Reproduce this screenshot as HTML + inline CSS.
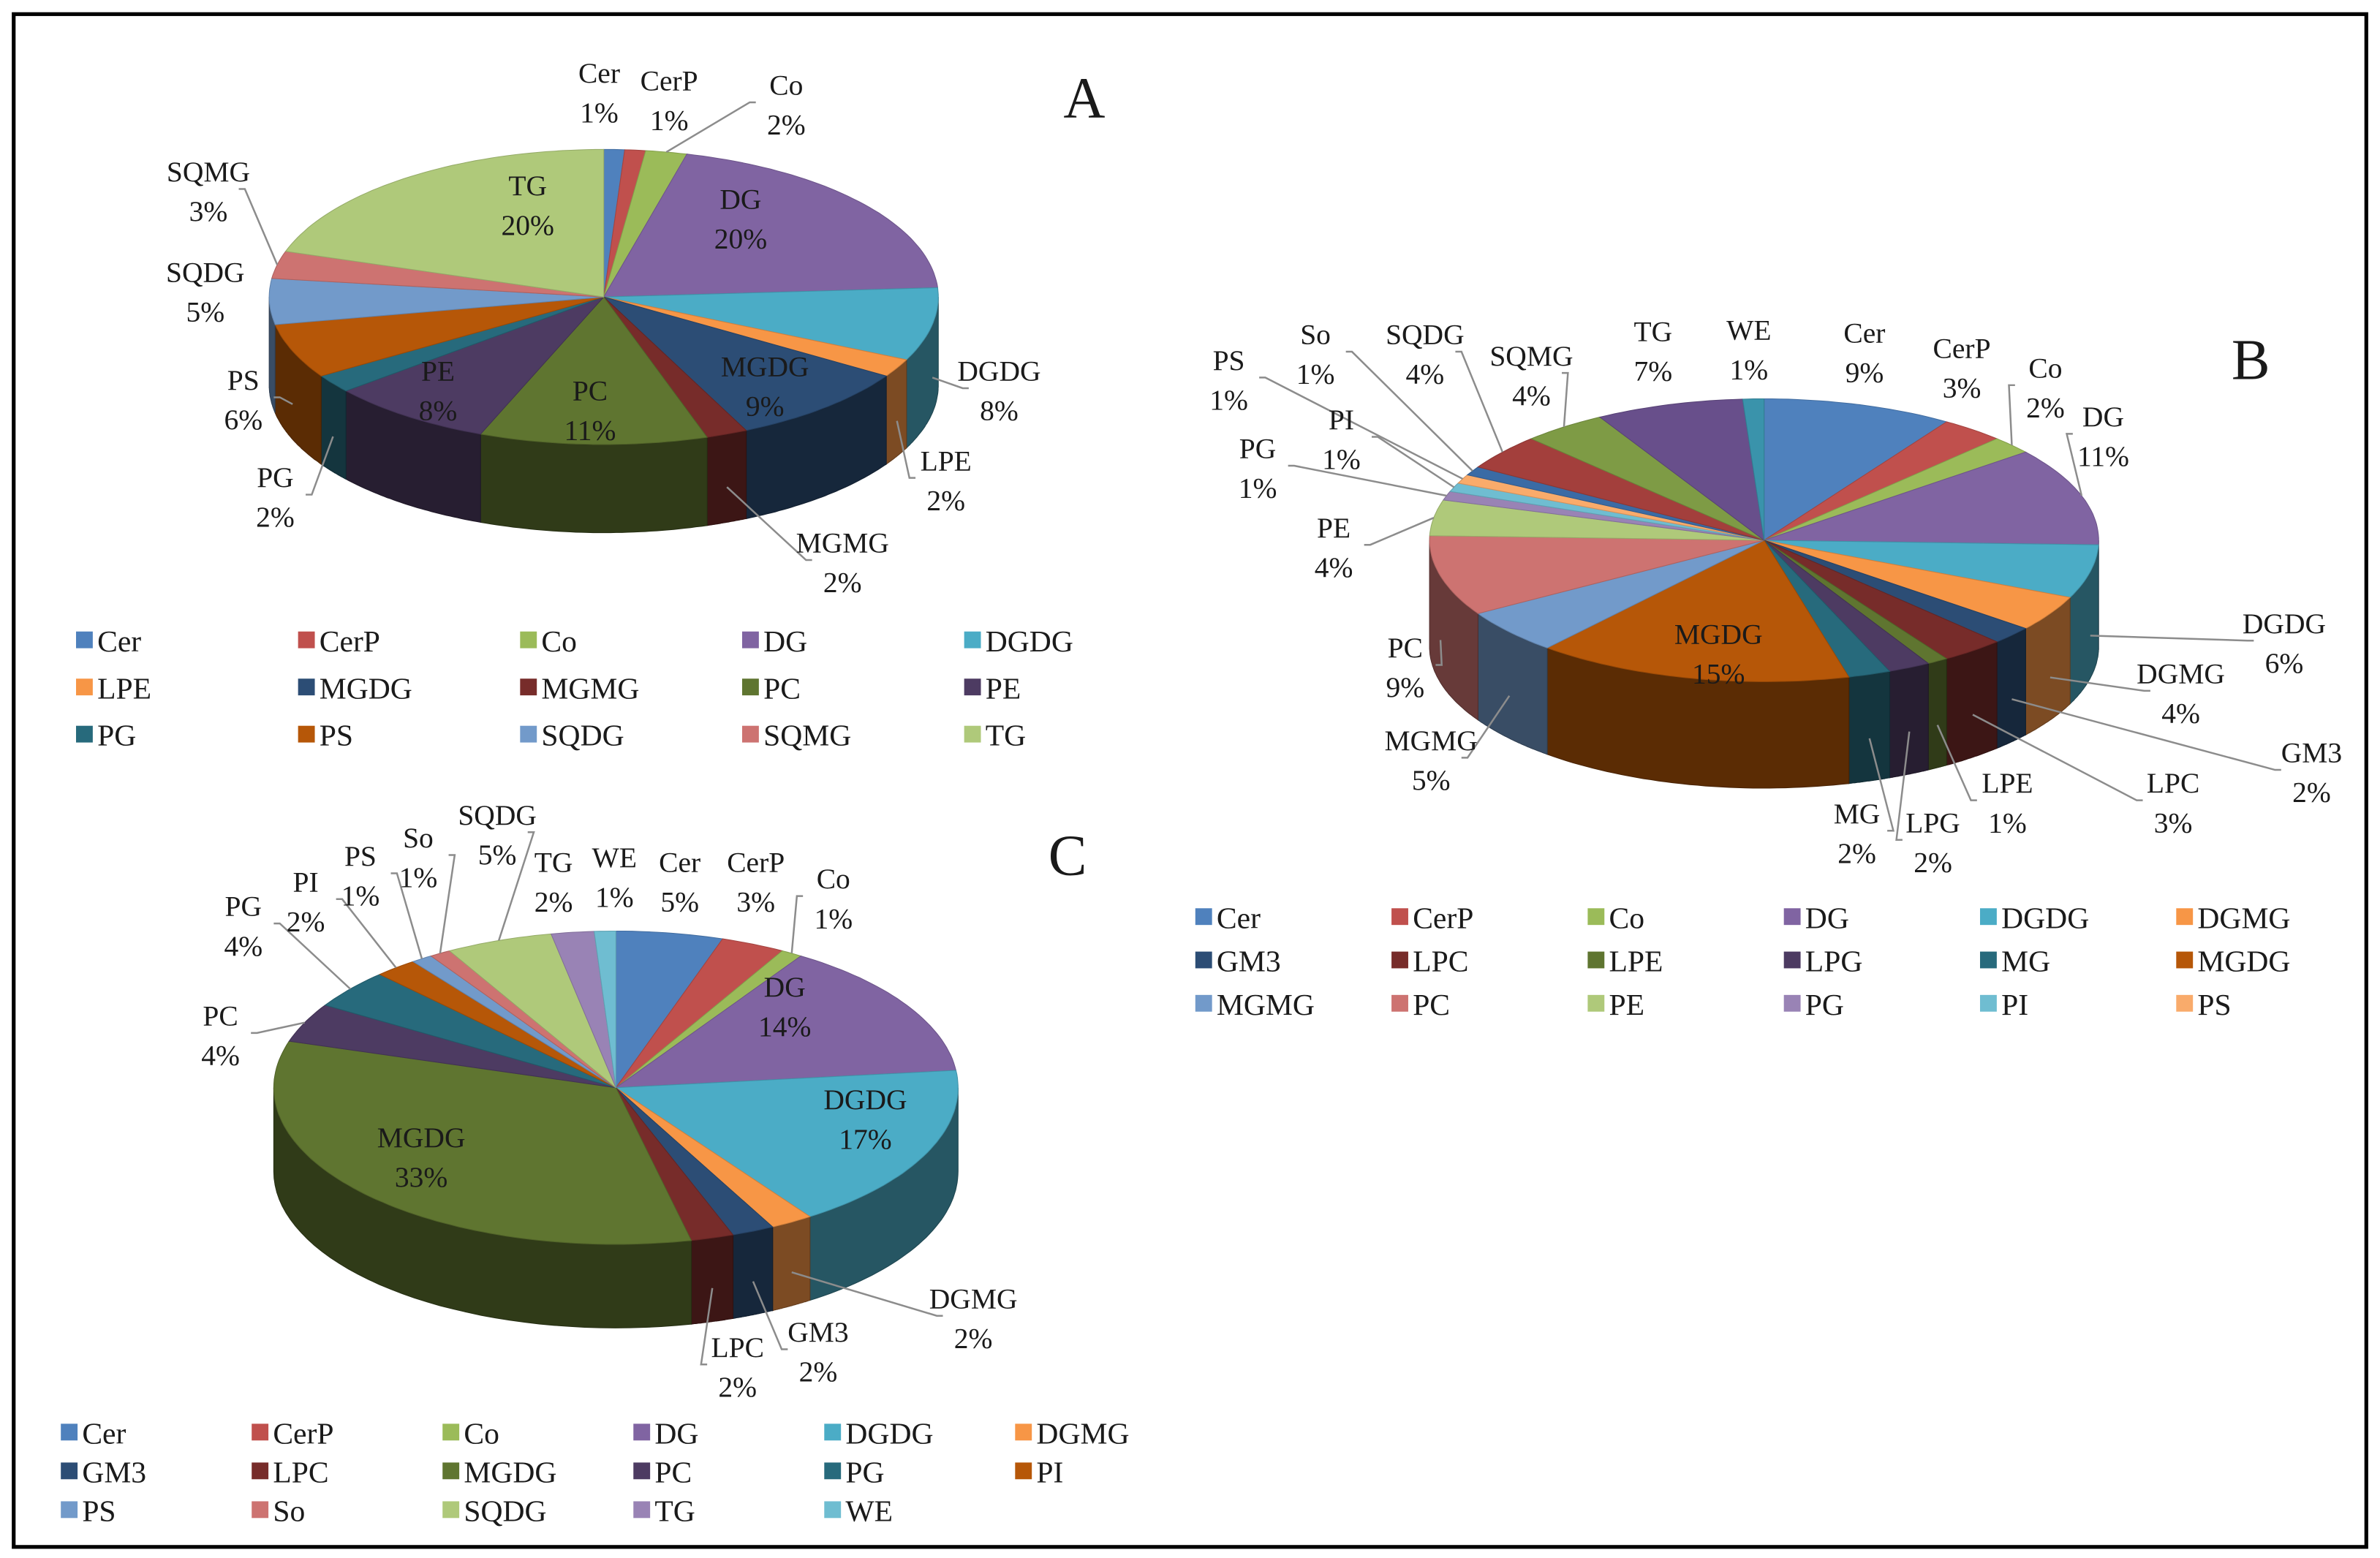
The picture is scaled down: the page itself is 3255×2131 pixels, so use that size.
<!DOCTYPE html>
<html><head><meta charset="utf-8"><style>
html,body{margin:0;padding:0;background:#fff;}
svg{display:block;}
text{font-family:"Liberation Serif","Times New Roman","DejaVu Serif",serif;fill:#1a1a1a;}
</style></head><body>
<svg id="chart" width="3255" height="2131" viewBox="0 0 1565 1024" xmlns="http://www.w3.org/2000/svg" font-family="Liberation Serif, serif">
<rect x="9" y="9" width="1547" height="1008" fill="#fff" stroke="#000" stroke-width="2.5"/>
<text x="713" y="77" font-size="38" text-anchor="middle" font-family="Liberation Serif, serif">A</text>
<text x="1480" y="249" font-size="38" text-anchor="middle" font-family="Liberation Serif, serif">B</text>
<text x="702" y="575" font-size="38" text-anchor="middle" font-family="Liberation Serif, serif">C</text>
</svg>
<script>
// ---- data ----
const catsA = ["Cer","CerP","Co","DG","DGDG","LPE","MGDG","MGMG","PC","PE","PG","PS","SQDG","SQMG","TG"];
const valsA = [1,1,2,20,8,2,9,2,11,8,2,6,5,3,20];
const catsB = ["Cer","CerP","Co","DG","DGDG","DGMG","GM3","LPC","LPE","LPG","MG","MGDG","MGMG","PC","PE","PG","PI","PS","So","SQDG","SQMG","TG","WE"];
const valsB = [9,3,2,11,6,4,2,3,1,2,2,15,5,9,4,1,1,1,1,4,4,7,1];
const catsC = ["Cer","CerP","Co","DG","DGDG","DGMG","GM3","LPC","MGDG","PC","PG","PI","PS","So","SQDG","TG","WE"];
const valsC = [5,3,1,14,17,2,2,2,33,4,4,2,1,1,5,2,1];
const legendCountB = 18;

// ---- styling / layout (not data) ----
const palette = ["#4F81BD","#C0504D","#9BBB59","#8064A2","#4BACC6","#F79646","#2C4D75","#772C2A","#5F7530","#4D3B62","#276A7C","#B65708","#729ACA","#CD7371","#AFC97A","#9983B5","#6FBDD1","#F9AB6B","#3A6BA5","#A33F3C","#7E9B45","#684F8B","#3A93AB"];
const posA = [[394,47],[440,52],[517,55],[487,130],[657,243],[622,302],[503,240],[554,356],[388,256],[288,243],[181,313],[160,249],[135,178],[137,112],[347,121]];
const posB = [[1226,218],[1290,228],[1345,241],[1383,273],[1502,409],[1434,442],[1520,494],[1429,514],[1320,514],[1271,540],[1221,534],[1130,416],[941,486],[924,425],[877,346],[827,294],[882,275],[808,236],[865,219],[937,219],[1007,233],[1087,217],[1150,216]];
const posC = [[447,566],[497,566],[548,577],[516,648],[569,722],[640,853],[538,875],[485,885],[277,747],[145,667],[160,595],[201,579],[237,562],[275,550],[327,535],[364,566],[404,563]];
const leadA = ["Co","DGDG","LPE","MGMG","PG","PS","SQMG"];
const leadB = ["Co","DG","DGDG","DGMG","GM3","LPC","LPE","LPG","MG","MGMG","PC","PE","PG","PI","PS","So","SQDG","SQMG"];
const leadC = ["Co","DGMG","GM3","LPC","PC","PG","PI","PS","So","SQDG"];

const svg = document.getElementById('chart');
const NS = "http://www.w3.org/2000/svg";
function mk(tag, attrs){const e=document.createElementNS(NS,tag);for(const k in attrs)e.setAttribute(k,attrs[k]);svg.appendChild(e);return e;}
function shade(hex,f){const n=parseInt(hex.slice(1),16);const r=Math.round(((n>>16)&255)*f),g=Math.round(((n>>8)&255)*f),b=Math.round((n&255)*f);return `rgb(${r},${g},${b})`;}

function pie(id, cats, vals, pos, lead, cx, cy, rx, ry, depth){
  const total = vals.reduce((a,b)=>a+b,0);
  const P = t=>[cx+rx*Math.sin(t), cy-ry*Math.cos(t)];
  let acc=0; const ang=[];
  vals.forEach(v=>{const a1=acc/total*2*Math.PI; acc+=v; ang.push([a1,acc/total*2*Math.PI]);});
  ang.forEach(([a1,a2],i)=>{
    const s=Math.max(a1,Math.PI/2), e=Math.min(a2,3*Math.PI/2);
    if(e<=s) return;
    const top=[],bot=[]; const n=40;
    for(let k=0;k<=n;k++){const t=s+(e-s)*k/n;const p=P(t);top.push(p);bot.push([p[0],p[1]+depth]);}
    const pts=top.concat(bot.reverse()).map(p=>p[0].toFixed(1)+','+p[1].toFixed(1)).join(' ');
    const el=mk('polygon',{points:pts,fill:shade(palette[i],0.5),stroke:shade(palette[i],0.4),'stroke-width':0.5});
    
    
  });
  ang.forEach(([a1,a2],i)=>{
    const n=Math.max(4,Math.ceil((a2-a1)*40));
    let d=`M${cx},${cy}`;
    for(let k=0;k<=n;k++){const p=P(a1+(a2-a1)*k/n);d+=` L${p[0].toFixed(1)},${p[1].toFixed(1)}`;}
    d+='Z';
    const el=mk('path',{d:d,fill:palette[i],stroke:shade(palette[i],0.85),'stroke-width':0.5});
    
    
  });
  // leader lines
  cats.forEach((c,i)=>{
    if(lead.indexOf(c)<0) return;
    const m=(ang[i][0]+ang[i][1])/2;
    const p=P(m); const front=Math.cos(m)<0;
    const py=p[1]+(front?depth*0.6:0);
    const lx=pos[i][0], ly=pos[i][1]+12;
    const ex = lx > p[0] ? lx-24 : lx+24;
    const el=mk('polyline',{points:`${p[0].toFixed(1)},${py.toFixed(1)} ${ex},${ly} ${lx>p[0]?lx-20:lx+20},${ly}`,fill:'none',stroke:'#8c8c8c','stroke-width':1.2});
    
    
  });
  cats.forEach((c,i)=>{
    const t=mk('text',{x:pos[i][0],y:pos[i][1]+7,'font-size':19,'text-anchor':'middle','font-family':'Liberation Serif, serif'});
    
    
    const t1=document.createElementNS(NS,'tspan');t1.setAttribute('x',pos[i][0]);t1.textContent=c;t.appendChild(t1);
    const t2=document.createElementNS(NS,'tspan');t2.setAttribute('x',pos[i][0]);t2.setAttribute('dy',26);
    t2.textContent=Math.round(vals[i]/total*100)+'%';t.appendChild(t2);
  });
}

function legend(id, cats, count, x0, y0, dx, dy, cols){
  for(let i=0;i<count;i++){
    const x=x0+(i%cols)*dx, y=y0+Math.floor(i/cols)*dy;
    const r=mk('rect',{x:x,y:y-6,width:11,height:11,fill:palette[i]});
    
    
    const t=mk('text',{x:x+14,y:y+7,'font-size':20,'font-family':'Liberation Serif, serif'});
    t.textContent=cats[i];
    
    
  }
}

pie('pie-a', catsA, valsA, posA, leadA, 397, 195, 220, 97, 58);
pie('pie-b', catsB, valsB, posB, leadB, 1160, 355, 220, 93, 70);
pie('pie-c', catsC, valsC, posC, leadC, 405, 715, 225, 103, 55);
legend('a', catsA, catsA.length, 50, 421, 146, 31, 5);
legend('b', catsB, legendCountB, 786, 603, 129, 28.5, 6);
legend('c', catsC, catsC.length, 40, 942, 125.5, 25.5, 6);
</script>
</body></html>
